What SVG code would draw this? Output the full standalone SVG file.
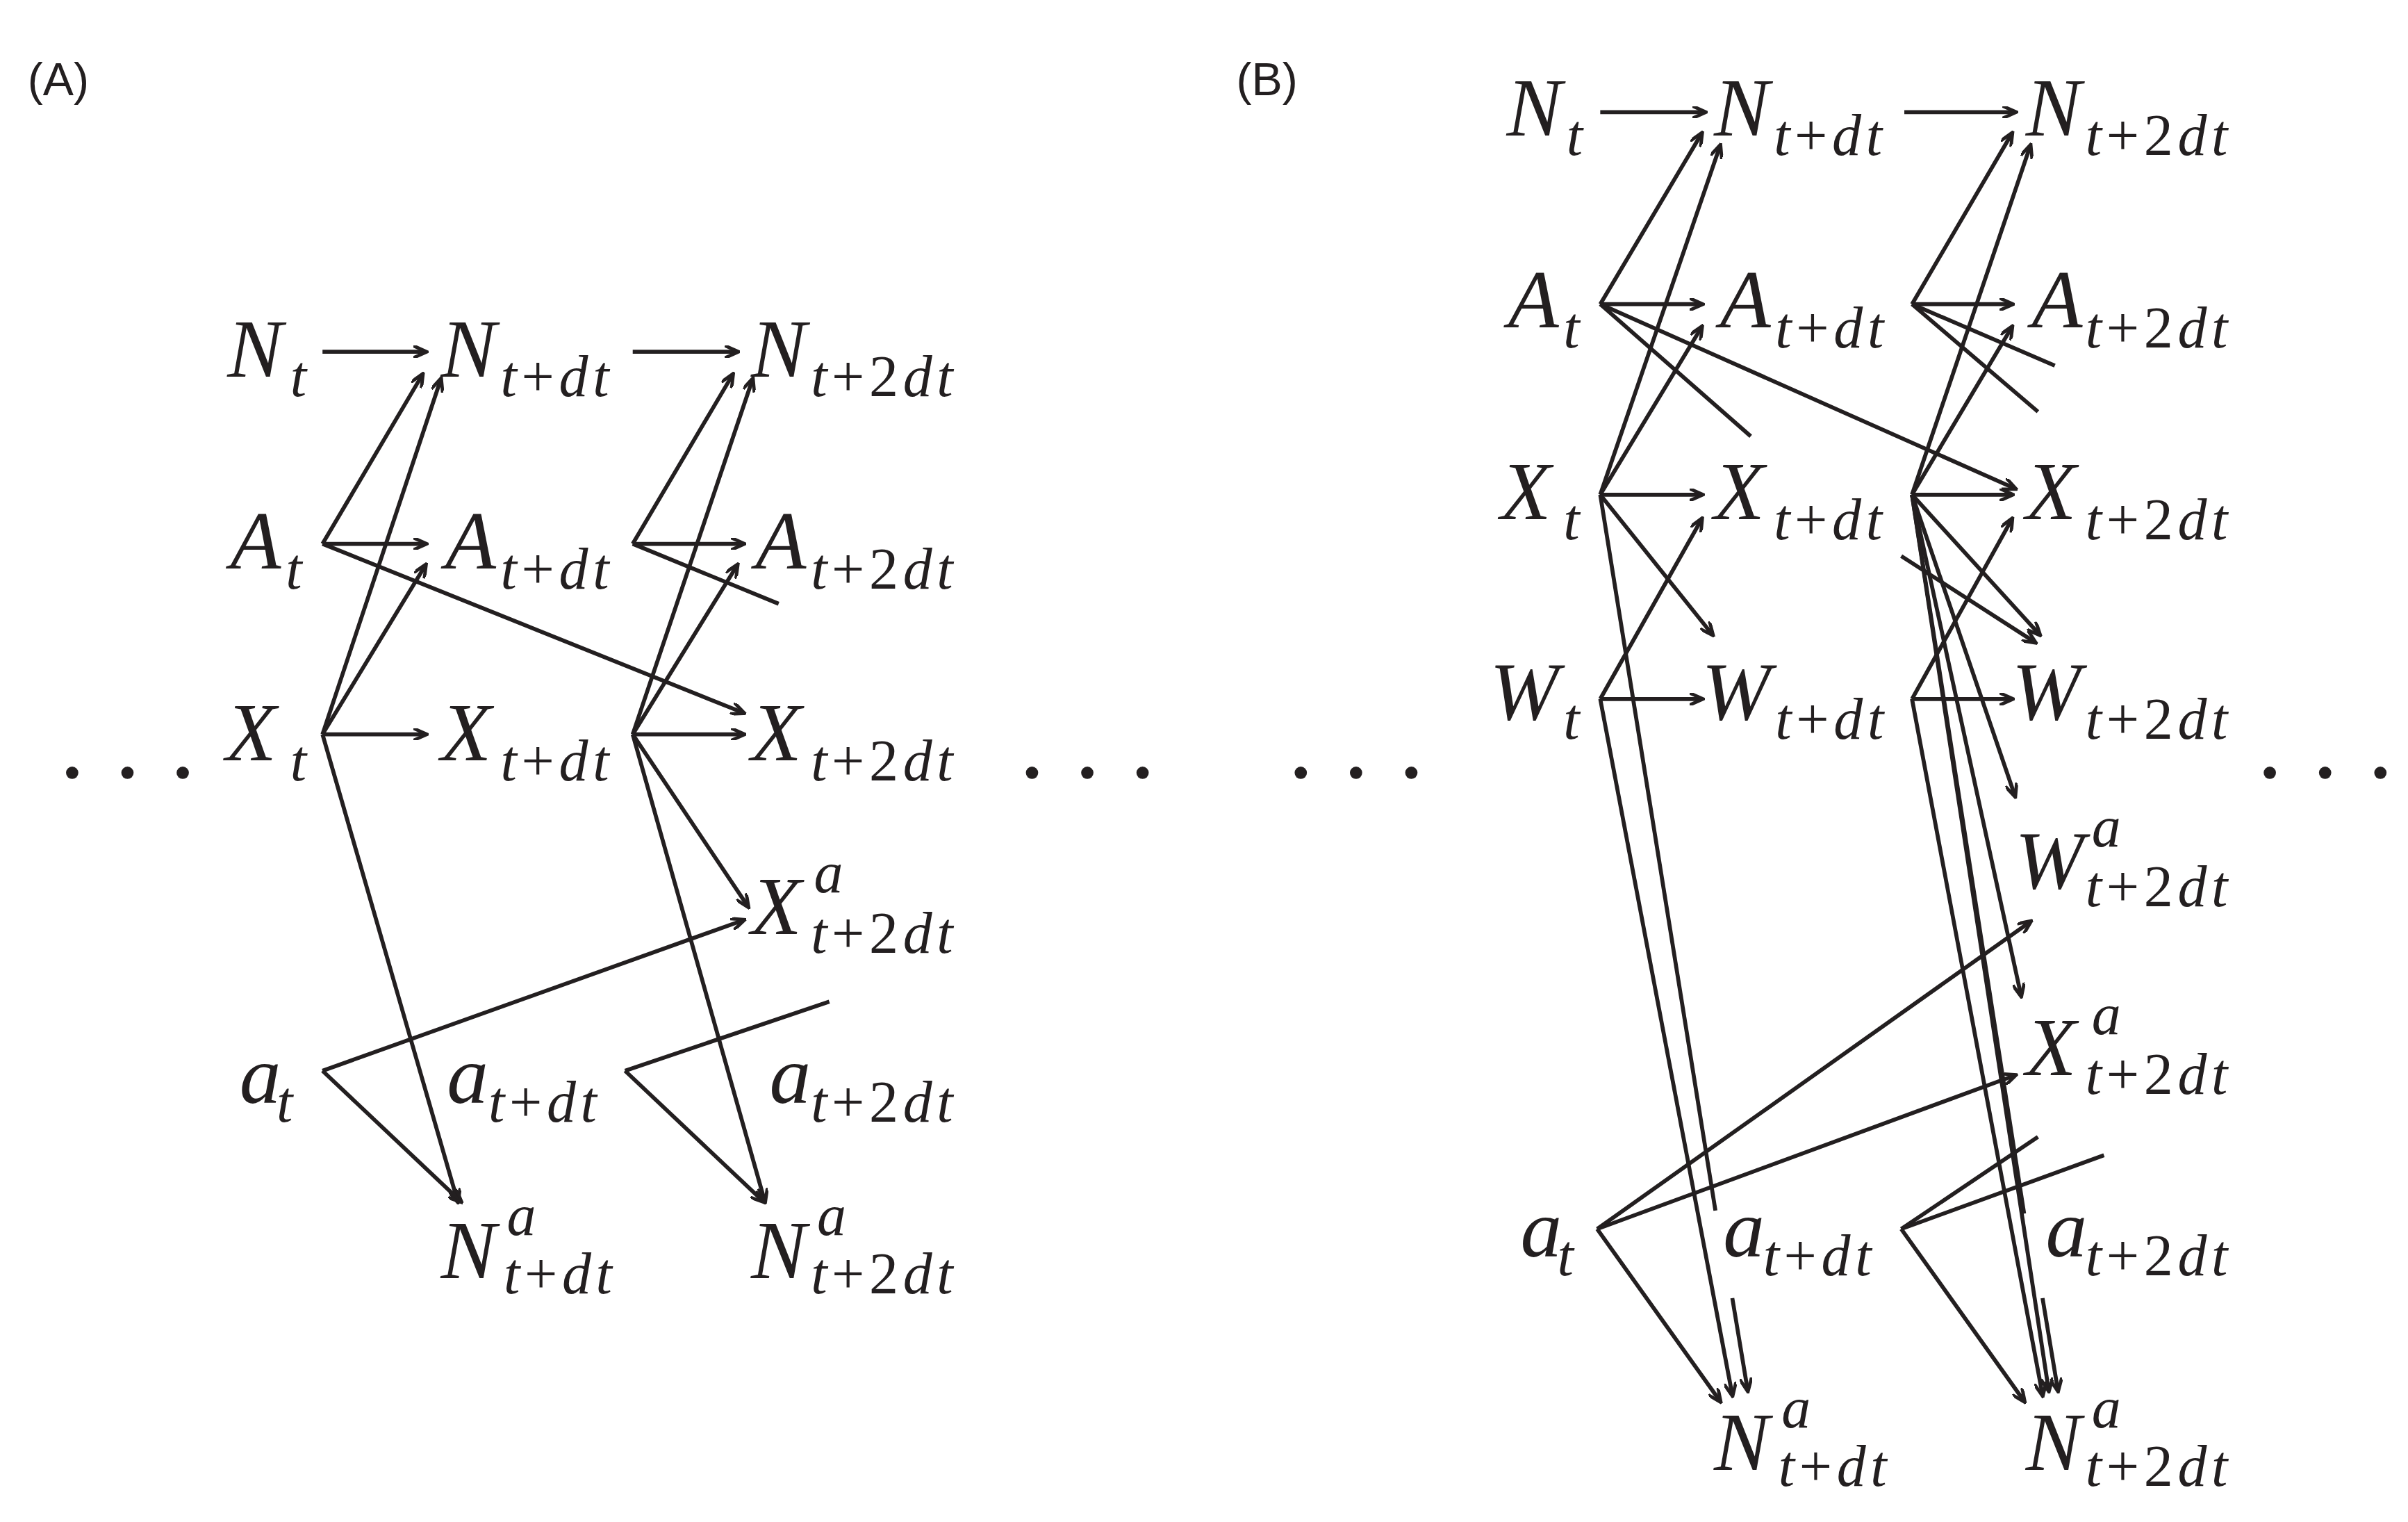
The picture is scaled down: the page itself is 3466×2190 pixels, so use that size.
<svg xmlns="http://www.w3.org/2000/svg" width="3466" height="2190" viewBox="0 0 3466 2190">
<style>
.m{font-family:"Liberation Serif",serif;font-style:italic;font-size:54px;fill:#231f20}
.s{font-family:"Liberation Serif",serif;font-style:italic;font-size:38px;letter-spacing:3px;fill:#231f20}
.u{font-style:normal}
.p{font-family:"Liberation Sans",Arial,sans-serif;font-size:30px;fill:#231f20}
.c line{stroke:#231f20;stroke-width:2.6}
.a{marker-end:url(#ar)}
</style>
<defs><marker id="ar" markerWidth="10" markerHeight="8" refX="8" refY="4" orient="auto" markerUnits="userSpaceOnUse"><path d="M0,0 L9,4 L0,8" fill="none" stroke="#231f20" stroke-width="2.2"/></marker></defs>
<rect width="3466" height="2190" fill="#fff"/>
<g transform="scale(2.2105)">
<text class="p" x="18" y="62">(A)</text>
<text class="p" x="805" y="62">(B)</text>
<g id="dots" fill="#231f20"><circle cx="47" cy="503" r="4"/><circle cx="83" cy="503" r="4"/><circle cx="119" cy="503" r="4"/><circle cx="672" cy="503" r="4"/><circle cx="708" cy="503" r="4"/><circle cx="744" cy="503" r="4"/><circle cx="847" cy="503" r="4"/><circle cx="883" cy="503" r="4"/><circle cx="919" cy="503" r="4"/><circle cx="1478" cy="503" r="4"/><circle cx="1514" cy="503" r="4"/><circle cx="1550" cy="503" r="4"/></g>
<g id="A_Nt"><text class="m" x="148" y="245">N</text><text class="s" x="189" y="258">t</text></g>
<g id="A_Ntdt"><text class="m" x="287" y="245">N</text><text class="s" x="326" y="258">t<tspan class="u">+</tspan>dt</text></g>
<g id="A_Nt2dt"><text class="m" x="489" y="245">N</text><text class="s" x="528" y="258">t<tspan class="u">+2</tspan>dt</text></g>
<g id="A_At"><text class="m" x="150" y="370">A</text><text class="s" x="186" y="383">t</text></g>
<g id="A_Atdt"><text class="m" x="290" y="370">A</text><text class="s" x="326" y="383">t<tspan class="u">+</tspan>dt</text></g>
<g id="A_At2dt"><text class="m" x="492" y="370">A</text><text class="s" x="528" y="383">t<tspan class="u">+2</tspan>dt</text></g>
<g id="A_Xt"><text class="m" x="147" y="495">X</text><text class="s" x="189" y="508">t</text></g>
<g id="A_Xtdt"><text class="m" x="287" y="495">X</text><text class="s" x="326" y="508">t<tspan class="u">+</tspan>dt</text></g>
<g id="A_Xt2dt"><text class="m" x="489" y="495">X</text><text class="s" x="528" y="508">t<tspan class="u">+2</tspan>dt</text></g>
<g id="A_Xa"><text class="m" x="489" y="608">X</text><text class="s" x="530" y="581">a</text><text class="s" x="528" y="620">t<tspan class="u">+2</tspan>dt</text></g>
<g id="A_at"><text class="m" x="156" y="718">a</text><text class="s" x="180" y="730">t</text></g>
<g id="A_atdt"><text class="m" x="291" y="718">a</text><text class="s" x="318" y="730">t<tspan class="u">+</tspan>dt</text></g>
<g id="A_at2dt"><text class="m" x="501" y="718">a</text><text class="s" x="528" y="730">t<tspan class="u">+2</tspan>dt</text></g>
<g id="A_Na1"><text class="m" x="287" y="832">N</text><text class="s" x="330" y="804">a</text><text class="s" x="328" y="842">t<tspan class="u">+</tspan>dt</text></g>
<g id="A_Na2"><text class="m" x="489" y="832">N</text><text class="s" x="532" y="804">a</text><text class="s" x="528" y="842">t<tspan class="u">+2</tspan>dt</text></g>
<g id="B_Nt"><text class="m" x="981" y="88">N</text><text class="s" x="1020" y="101">t</text></g>
<g id="B_Ntdt"><text class="m" x="1116" y="88">N</text><text class="s" x="1155" y="101">t<tspan class="u">+</tspan>dt</text></g>
<g id="B_Nt2dt"><text class="m" x="1319" y="88">N</text><text class="s" x="1358" y="101">t<tspan class="u">+2</tspan>dt</text></g>
<g id="B_At"><text class="m" x="982" y="213">A</text><text class="s" x="1018" y="226">t</text></g>
<g id="B_Atdt"><text class="m" x="1120" y="213">A</text><text class="s" x="1156" y="226">t<tspan class="u">+</tspan>dt</text></g>
<g id="B_At2dt"><text class="m" x="1323" y="213">A</text><text class="s" x="1358" y="226">t<tspan class="u">+2</tspan>dt</text></g>
<g id="B_Xt"><text class="m" x="977" y="338">X</text><text class="s" x="1018" y="351">t</text></g>
<g id="B_Xtdt"><text class="m" x="1116" y="338">X</text><text class="s" x="1155" y="351">t<tspan class="u">+</tspan>dt</text></g>
<g id="B_Xt2dt"><text class="m" x="1319" y="338">X</text><text class="s" x="1358" y="351">t<tspan class="u">+2</tspan>dt</text></g>
<g id="B_Wt"><text class="m" x="970" y="468">W</text><text class="s" x="1018" y="481">t</text></g>
<g id="B_Wtdt"><text class="m" x="1108" y="468">W</text><text class="s" x="1156" y="481">t<tspan class="u">+</tspan>dt</text></g>
<g id="B_Wt2dt"><text class="m" x="1310" y="468">W</text><text class="s" x="1358" y="481">t<tspan class="u">+2</tspan>dt</text></g>
<g id="B_Wa"><text class="m" x="1312" y="578">W</text><text class="s" x="1362" y="551">a</text><text class="s" x="1358" y="590">t<tspan class="u">+2</tspan>dt</text></g>
<g id="B_Xa"><text class="m" x="1319" y="700">X</text><text class="s" x="1362" y="673">a</text><text class="s" x="1358" y="712">t<tspan class="u">+2</tspan>dt</text></g>
<g id="B_at"><text class="m" x="990" y="818">a</text><text class="s" x="1014" y="830">t</text></g>
<g id="B_atdt"><text class="m" x="1122" y="818">a</text><text class="s" x="1148" y="830">t<tspan class="u">+</tspan>dt</text></g>
<g id="B_at2dt"><text class="m" x="1332" y="818">a</text><text class="s" x="1358" y="830">t<tspan class="u">+2</tspan>dt</text></g>
<g id="B_Na1"><text class="m" x="1116" y="957">N</text><text class="s" x="1160" y="929">a</text><text class="s" x="1158" y="967">t<tspan class="u">+</tspan>dt</text></g>
<g id="B_Na2"><text class="m" x="1319" y="957">N</text><text class="s" x="1362" y="929">a</text><text class="s" x="1358" y="967">t<tspan class="u">+2</tspan>dt</text></g>
<g id="connectors" class="c">
<line class="a" x1="210" y1="229" x2="277" y2="229"/>
<line class="a" x1="412" y1="229" x2="480" y2="229"/>
<line class="a" x1="210" y1="354" x2="275" y2="244"/>
<line class="a" x1="210" y1="354" x2="277" y2="354"/>
<line class="a" x1="210" y1="354" x2="484" y2="464"/>
<line class="a" x1="210" y1="478" x2="287" y2="247"/>
<line class="a" x1="210" y1="478" x2="277" y2="368"/>
<line class="a" x1="210" y1="478" x2="277" y2="478"/>
<line class="a" x1="210" y1="478" x2="298" y2="782"/>
<line class="a" x1="210" y1="697" x2="484" y2="599"/>
<line class="a" x1="210" y1="697" x2="300" y2="782"/>
<line class="a" x1="412" y1="354" x2="477" y2="244"/>
<line class="a" x1="412" y1="354" x2="484" y2="354"/>
<line x1="412" y1="354" x2="507" y2="393"/>
<line class="a" x1="412" y1="478" x2="490" y2="247"/>
<line class="a" x1="412" y1="478" x2="480" y2="368"/>
<line class="a" x1="412" y1="478" x2="484" y2="478"/>
<line class="a" x1="412" y1="478" x2="487" y2="590"/>
<line class="a" x1="412" y1="478" x2="498" y2="782"/>
<line x1="407" y1="697" x2="540" y2="652"/>
<line class="a" x1="407" y1="697" x2="497" y2="782"/>
<line class="a" x1="1042" y1="73" x2="1110" y2="73"/>
<line class="a" x1="1240" y1="73" x2="1312" y2="73"/>
<line class="a" x1="1042" y1="198" x2="1108" y2="87"/>
<line class="a" x1="1042" y1="198" x2="1108" y2="198"/>
<line x1="1042" y1="198" x2="1140" y2="284"/>
<line class="a" x1="1042" y1="198" x2="1312" y2="318"/>
<line class="a" x1="1042" y1="322" x2="1120" y2="95"/>
<line class="a" x1="1042" y1="322" x2="1108" y2="213"/>
<line class="a" x1="1042" y1="322" x2="1108" y2="322"/>
<line class="a" x1="1042" y1="322" x2="1115" y2="413"/>
<line x1="1042" y1="322" x2="1117" y2="788"/>
<line class="a" x1="1128" y1="845" x2="1138" y2="905"/>
<line class="a" x1="1042" y1="455" x2="1108" y2="338"/>
<line class="a" x1="1042" y1="455" x2="1108" y2="455"/>
<line class="a" x1="1042" y1="455" x2="1128" y2="908"/>
<line class="a" x1="1040" y1="800" x2="1322" y2="600"/>
<line class="a" x1="1040" y1="800" x2="1312" y2="700"/>
<line class="a" x1="1040" y1="800" x2="1120" y2="912"/>
<line class="a" x1="1245" y1="198" x2="1310" y2="87"/>
<line class="a" x1="1245" y1="198" x2="1310" y2="198"/>
<line x1="1245" y1="198" x2="1338" y2="238"/>
<line x1="1245" y1="198" x2="1327" y2="268"/>
<line class="a" x1="1245" y1="322" x2="1322" y2="95"/>
<line class="a" x1="1245" y1="322" x2="1310" y2="213"/>
<line class="a" x1="1245" y1="322" x2="1310" y2="322"/>
<line class="a" x1="1245" y1="322" x2="1328" y2="413"/>
<line class="a" x1="1245" y1="322" x2="1312" y2="518"/>
<line class="a" x1="1245" y1="322" x2="1316" y2="648"/>
<line x1="1245" y1="322" x2="1318" y2="790"/>
<line class="a" x1="1330" y1="845" x2="1340" y2="905"/>
<line class="a" x1="1238" y1="362" x2="1325" y2="418"/>
<line class="a" x1="1245" y1="455" x2="1310" y2="338"/>
<line class="a" x1="1245" y1="455" x2="1310" y2="455"/>
<line class="a" x1="1245" y1="455" x2="1330" y2="908"/>
<line class="a" x1="1245" y1="322" x2="1334" y2="905"/>
<line x1="1238" y1="800" x2="1327" y2="740"/>
<line x1="1238" y1="800" x2="1370" y2="752"/>
<line class="a" x1="1238" y1="800" x2="1318" y2="912"/>
</g>
</g>
</svg>
